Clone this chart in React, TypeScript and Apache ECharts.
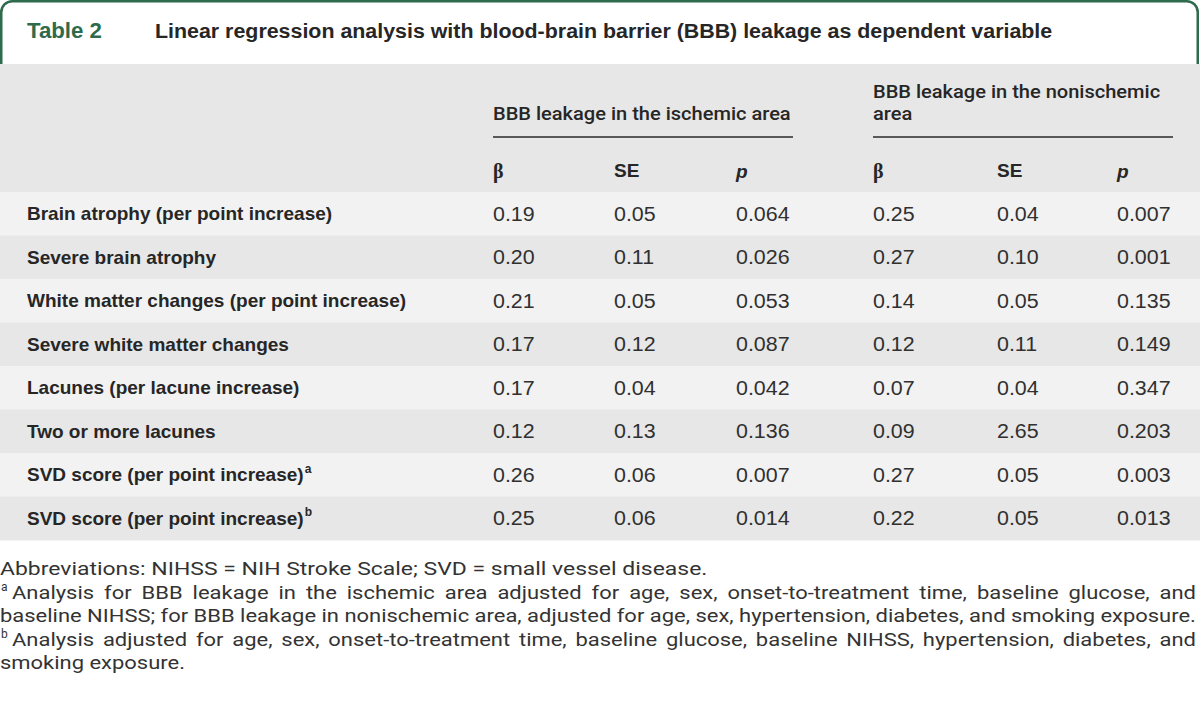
import React, { useEffect, useRef } from "react";
import * as echarts from "echarts";

const titleTag = "Table 2";
const titleText =
  "Linear regression analysis with blood-brain barrier (BBB) leakage as dependent variable";
const groupHeaders = [["BBB leakage in the ischemic area"], ["BBB leakage in the nonischemic", "area"]];
const subHeaders = ["β", "SE", "p"];
const rowLabels = [
  "Brain atrophy (per point increase)",
  "Severe brain atrophy",
  "White matter changes (per point increase)",
  "Severe white matter changes",
  "Lacunes (per lacune increase)",
  "Two or more lacunes",
  "SVD score (per point increase)",
  "SVD score (per point increase)",
];
const rowSup = ["", "", "", "", "", "", "a", "b"];
const ischBeta = ["0.19", "0.20", "0.21", "0.17", "0.17", "0.12", "0.26", "0.25"];
const ischSE = ["0.05", "0.11", "0.05", "0.12", "0.04", "0.13", "0.06", "0.06"];
const ischP = ["0.064", "0.026", "0.053", "0.087", "0.042", "0.136", "0.007", "0.014"];
const nonBeta = ["0.25", "0.27", "0.14", "0.12", "0.07", "0.09", "0.27", "0.22"];
const nonSE = ["0.04", "0.10", "0.05", "0.11", "0.04", "2.65", "0.05", "0.05"];
const nonP = ["0.007", "0.001", "0.135", "0.149", "0.347", "0.203", "0.003", "0.013"];
const footSup = ["", "a", "", "b", ""];
const footText = [
  "Abbreviations: NIHSS = NIH Stroke Scale; SVD = small vessel disease.",
  "Analysis for BBB leakage in the ischemic area adjusted for age, sex, onset-to-treatment time, baseline glucose, and",
  "baseline NIHSS; for BBB leakage in nonischemic area, adjusted for age, sex, hypertension, diabetes, and smoking exposure.",
  "Analysis adjusted for age, sex, onset-to-treatment time, baseline glucose, baseline NIHSS, hypertension, diabetes, and",
  "smoking exposure.",
];
const footJustify = [false, true, false, true, false];

const GREEN = "#2e6a4c";
const DARK = "#262626";
const SANS = "'Liberation Sans', Arial, sans-serif";
const FOOT = "Roboto, 'Liberation Sans', sans-serif";

let measCtx: CanvasRenderingContext2D | null = null;
function measure(text: string, size: number, family: string, weight = "normal", style = "normal") {
  if (!measCtx) measCtx = document.createElement("canvas").getContext("2d");
  measCtx!.font = `${style} ${weight} ${size}px ${family}`;
  return measCtx!.measureText(text).width;
}

function txt(
  text: string,
  x: number,
  y: number,
  o: { size: number; family?: string; weight?: string; style?: string; fill?: string; scaleX?: number; align?: string }
) {
  return {
    type: "text",
    x,
    y,
    scaleX: o.scaleX ?? 1,
    silent: true,
    z: 10,
    style: {
      text,
      fontSize: o.size,
      fontFamily: o.family ?? SANS,
      fontWeight: o.weight ?? "normal",
      fontStyle: o.style ?? "normal",
      fill: o.fill ?? DARK,
      align: o.align ?? "left",
      verticalAlign: "middle",
    },
  };
}

function buildGraphics() {
  const g: any[] = [];
  // green tab outline
  g.push({
    type: "rect",
    silent: true,
    z: 1,
    shape: { x: 1.25, y: 1.25, width: 1196.5, height: 100, r: [11, 11, 0, 0] },
    style: { fill: "#ffffff", stroke: GREEN, lineWidth: 2.5 },
  });
  // header gray block
  const headTop = 64;
  const rowTop = 192;
  const rowH = 43.5;
  g.push({
    type: "rect",
    silent: true,
    z: 2,
    shape: { x: 0, y: headTop, width: 1200, height: rowTop - headTop },
    style: { fill: "#e6e7e6" },
  });
  rowLabels.forEach((_, i) => {
    g.push({
      type: "rect",
      silent: true,
      z: 2,
      shape: { x: 0, y: rowTop + i * rowH, width: 1200, height: rowH + 0.5 },
      style: { fill: i % 2 === 0 ? "#f2f2f2" : "#e6e7e6" },
    });
  });

  // title
  const tagW = measure(titleTag, 21.5, SANS, "bold");
  g.push(txt(titleTag, 27, 31, { size: 21.5, weight: "bold", fill: GREEN, scaleX: 75 / tagW }));
  const tW = measure(titleText, 20.5, SANS, "bold");
  g.push(txt(titleText, 155, 31, { size: 20.5, weight: "bold", fill: DARK, scaleX: 898 / tW }));

  // group headers
  const hSize = 19;
  const hFam = "Roboto, 'Liberation Sans', sans-serif";
  const hW = measure(groupHeaders[0][0], hSize, hFam, "500");
  const hScale = 298 / hW;
  const groupX = [493, 873];
  const lineEnd = [793, 1173];
  groupHeaders.forEach((lines, gi) => {
    const ys = lines.length === 1 ? [114] : [92, 114];
    lines.forEach((l, li) =>
      g.push(txt(l, groupX[gi], ys[li], { size: hSize, family: hFam, weight: "500", scaleX: hScale }))
    );
    g.push({
      type: "line",
      silent: true,
      z: 10,
      shape: { x1: groupX[gi], y1: 137, x2: lineEnd[gi], y2: 137 },
      style: { stroke: "#2a2a2a", lineWidth: 1.5 },
    });
  });

  // sub headers
  const colX = [493, 614, 736, 873, 997, 1117];
  colX.forEach((x, ci) => {
    const h = subHeaders[ci % 3];
    if (h === "β")
      g.push(txt(h, x, 171, { size: 20, family: "'Liberation Serif', serif", weight: "bold" }));
    else if (h === "p")
      g.push(txt(h, x, 171, { size: 19, weight: "bold", style: "italic" }));
    else g.push(txt(h, x, 170, { size: 19, weight: "bold" }));
  });

  // rows
  const cols = [ischBeta, ischSE, ischP, nonBeta, nonSE, nonP];
  rowLabels.forEach((label, i) => {
    const cy = rowTop + i * rowH + rowH / 2;
    g.push(txt(label, 27, cy, { size: 19, weight: "bold" }));
    if (rowSup[i]) {
      const w = measure(label, 19, SANS, "bold");
      g.push(txt(rowSup[i], 27 + w + 1, cy - 6, { size: 12, weight: "bold" }));
    }
    cols.forEach((arr, ci) => {
      g.push(txt(arr[i], colX[ci], cy, { size: 20, fill: "#303030", scaleX: 1.07 }));
    });
  });

  // footnotes
  const fSize = 18.5;
  const fScale = 1196 / measure(footText[2], fSize, FOOT);
  const line1Scale = 708 / measure(footText[0], fSize, FOOT);
  const fY = [569, 592.5, 616, 639.5, 663];
  footText.forEach((t, i) => {
    let x0 = 0;
    if (footSup[i]) {
      g.push(txt(footSup[i], 1, fY[i] - 6, { size: 12, family: FOOT, fill: "#333" }));
      x0 = 12;
    }
    if (!footJustify[i]) {
      g.push(
        txt(t, x0, fY[i], { size: fSize, family: FOOT, fill: "#333", scaleX: i === 0 ? line1Scale : fScale })
      );
    } else {
      const words = t.split(" ");
      const ws = words.map((w) => measure(w, fSize, FOOT) * fScale);
      const total = ws.reduce((a, b) => a + b, 0);
      const gap = (1196 - x0 - total) / (words.length - 1);
      let x = x0;
      words.forEach((w, wi) => {
        g.push(txt(w, x, fY[i], { size: fSize, family: FOOT, fill: "#333", scaleX: fScale }));
        x += ws[wi] + gap;
      });
    }
  });
  return g;
}

export default function App() {
  const ref = useRef<HTMLDivElement>(null);
  useEffect(() => {
    if (!ref.current) return;
    const chart = echarts.init(ref.current, undefined, { renderer: "svg" });
    chart.setOption({
      animation: false,
      backgroundColor: "#ffffff",
      graphic: { elements: buildGraphics() },
    });
    return () => chart.dispose();
  }, []);
  return (
    <div
      ref={ref}
      style={{ position: "fixed", left: 0, top: 0, width: 1200, height: 701, background: "#fff" }}
    />
  );
}
